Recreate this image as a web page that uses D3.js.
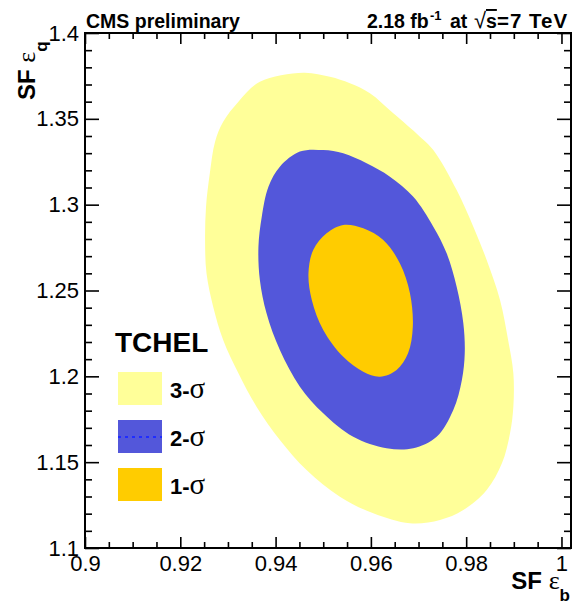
<!DOCTYPE html>
<html>
<head>
<meta charset="utf-8">
<script src="https://cdn.jsdelivr.net/npm/d3@7"></script>
<style>
  body { margin: 0; background: #fff; }
  svg { display: block; }
  text { font-family: "Liberation Sans", Arial, Helvetica, sans-serif; }
</style>
</head>
<body>
<svg id="chart" width="576" height="601"></svg>
<script>
// Axis ranges and tick labels
const xDomain = [0.9, 1.002];
const yDomain = [1.1, 1.4];
const xTickValues = [0.9, 0.92, 0.94, 0.96, 0.98, 1.0];
const xTickLabels = ["0.9", "0.92", "0.94", "0.96", "0.98", "1"];
const yTickValues = [1.1, 1.15, 1.2, 1.25, 1.3, 1.35, 1.4];
const yTickLabels = ["1.1", "1.15", "1.2", "1.25", "1.3", "1.35", "1.4"];

// 3-sigma contour (SF eps_b, SF eps_q)
const sigma3X = [0.9458, 0.9367, 0.9322, 0.9290, 0.9273, 0.9262, 0.9254, 0.9252, 0.9255, 0.9269,
                 0.9290, 0.9322, 0.9360, 0.9409, 0.9465, 0.9535, 0.9605, 0.9682, 0.9745, 0.9794,
                 0.9843, 0.9875, 0.9892, 0.9899, 0.9899, 0.9888, 0.9871, 0.9843, 0.9815, 0.9780,
                 0.9731, 0.9703, 0.9647, 0.9598, 0.9556, 0.9514];
const sigma3Y = [1.3769, 1.3716, 1.3600, 1.3483, 1.3367, 1.3183, 1.2988, 1.2794, 1.2600, 1.2406,
                 1.2212, 1.2018, 1.1823, 1.1629, 1.1454, 1.1299, 1.1202, 1.1144, 1.1163, 1.1221,
                 1.1338, 1.1493, 1.1668, 1.1823, 1.2018, 1.2212, 1.2445, 1.2678, 1.2872, 1.3085,
                 1.3318, 1.3396, 1.3532, 1.3649, 1.3707, 1.3745];

// 2-sigma contour
const sigma2X = [0.9500, 0.9451, 0.9409, 0.9385, 0.9371, 0.9364, 0.9367, 0.9381, 0.9409, 0.9451,
                 0.9500, 0.9563, 0.9633, 0.9689, 0.9738, 0.9773, 0.9791, 0.9797, 0.9794, 0.9780,
                 0.9759, 0.9731, 0.9689, 0.9640, 0.9591, 0.9542];
const sigma2Y = [1.3318, 1.3309, 1.3221, 1.3105, 1.2930, 1.2755, 1.2561, 1.2367, 1.2153, 1.1940,
                 1.1785, 1.1648, 1.1581, 1.1581, 1.1648, 1.1804, 1.1979, 1.2134, 1.2309, 1.2522,
                 1.2717, 1.2872, 1.3046, 1.3163, 1.3241, 1.3299];

// 1-sigma contour
const sigma1X = [0.9542, 0.9507, 0.9479, 0.9469, 0.9476, 0.9500, 0.9542, 0.9584, 0.9619, 0.9654,
                 0.9678, 0.9688, 0.9682, 0.9661, 0.9626, 0.9584];
const sigma1Y = [1.2882, 1.2833, 1.2736, 1.2600, 1.2445, 1.2270, 1.2114, 1.2027, 1.1998, 1.2037,
                 1.2134, 1.2289, 1.2484, 1.2658, 1.2794, 1.2862];

const legendTitle = "TCHEL";
const legendNumbers = ["3", "2", "1"];

// Plot frame
const frame = { left: 85, right: 571, top: 33, bottom: 548 };
const colors = { s3: "#ffff99", s2: "#5357da", s1: "#ffcc00" };

const svg = d3.select("#chart");
const x = d3.scaleLinear().domain(xDomain).range([frame.left, frame.right]);
const y = d3.scaleLinear().domain(yDomain).range([frame.bottom, frame.top]);

const pts = (xs, ys) => xs.map((v, i) => [x(v), y(ys[i])]);
const area = d3.line().curve(d3.curveCatmullRomClosed.alpha(0.5));

// Filled contours, widest first
[[sigma3X, sigma3Y, colors.s3], [sigma2X, sigma2Y, colors.s2], [sigma1X, sigma1Y, colors.s1]]
  .forEach(([xs, ys, c]) => {
    svg.append("path").attr("d", area(pts(xs, ys))).attr("fill", c).attr("stroke", "none");
  });

// Tick positions
const xMinor = d3.range(0, 21).map(i => +(0.9 + i * 0.005).toFixed(3))
  .filter(v => !xTickValues.some(t => Math.abs(t - v) < 1e-9));
const yMinor = d3.range(0, 31).map(i => +(1.1 + i * 0.01).toFixed(3))
  .filter(v => !yTickValues.some(t => Math.abs(t - v) < 1e-9));

function drawAxis(axis, tx, ty, withLabels) {
  const g = svg.append("g").attr("transform", `translate(${tx},${ty})`).call(axis);
  g.select(".domain").remove();
  g.selectAll("line").attr("stroke", "#000").attr("stroke-width", 1.6);
  if (!withLabels) g.selectAll("text").remove();
  return g;
}

const fmtX = d => xTickLabels[xTickValues.findIndex(t => Math.abs(t - d) < 1e-9)];
const fmtY = d => yTickLabels[yTickValues.findIndex(t => Math.abs(t - d) < 1e-9)];

// Bottom
const gb = drawAxis(d3.axisBottom(x).tickValues(xTickValues).tickSize(-11).tickPadding(7).tickFormat(fmtX), 0, frame.bottom, true);
gb.selectAll("text").attr("font-size", 22).attr("fill", "#000")
  .attr("font-family", "'Liberation Sans', Arial, sans-serif");
drawAxis(d3.axisBottom(x).tickValues(xMinor).tickSize(-6).tickFormat(""), 0, frame.bottom, false);
// Top
drawAxis(d3.axisTop(x).tickValues(xTickValues).tickSize(-11).tickFormat(""), 0, frame.top, false);
drawAxis(d3.axisTop(x).tickValues(xMinor).tickSize(-6).tickFormat(""), 0, frame.top, false);
// Left
const gl = drawAxis(d3.axisLeft(y).tickValues(yTickValues).tickSize(-14).tickPadding(6).tickFormat(fmtY), frame.left, 0, true);
gl.selectAll("text").attr("font-size", 22).attr("fill", "#000")
  .attr("font-family", "'Liberation Sans', Arial, sans-serif");
drawAxis(d3.axisLeft(y).tickValues(yMinor).tickSize(-7).tickFormat(""), frame.left, 0, false);
// Right
drawAxis(d3.axisRight(y).tickValues(yTickValues).tickSize(-14).tickFormat(""), frame.right, 0, false);
drawAxis(d3.axisRight(y).tickValues(yMinor).tickSize(-7).tickFormat(""), frame.right, 0, false);

// Frame
svg.append("rect")
  .attr("x", frame.left).attr("y", frame.top)
  .attr("width", frame.right - frame.left).attr("height", frame.bottom - frame.top)
  .attr("fill", "none").attr("stroke", "#000").attr("stroke-width", 2);

// Header texts
svg.append("text").attr("x", 86).attr("y", 28)
  .attr("font-size", 19.5).attr("font-weight", "bold").text("CMS preliminary");

const lumi = svg.append("text").attr("y", 28)
  .attr("font-size", 19.5).attr("font-weight", "bold");
lumi.append("tspan").attr("x", 367).text("2.18 fb");
lumi.append("tspan").attr("x", 430).attr("font-size", 13).attr("dy", -8).text("-1");
lumi.append("tspan").attr("x", 450).attr("dy", 8).text("at");
lumi.append("tspan").attr("x", 474).attr("font-weight", "normal").attr("font-size", 22).text("√");
lumi.append("tspan").attr("x", 486).attr("text-decoration", "overline").text("s");
lumi.append("tspan").attr("x", 497).attr("font-size", 20.5).attr("letter-spacing", 1).text("=7 TeV");

// Axis titles
const xt = svg.append("text").attr("x", 570).attr("y", 589).attr("text-anchor", "end")
  .attr("font-size", 24).attr("font-weight", "bold");
xt.append("tspan").text("SF ");
xt.append("tspan").attr("font-family", "'Liberation Serif', serif").attr("font-weight", "normal").attr("font-size", 26).text("ε");
xt.append("tspan").attr("font-size", 17).attr("dy", 12).text("b");

const yt = svg.append("text").attr("transform", "translate(35,100) rotate(-90)")
  .attr("font-size", 24).attr("font-weight", "bold");
yt.append("tspan").text("SF ");
yt.append("tspan").attr("font-family", "'Liberation Serif', serif").attr("font-weight", "normal").attr("font-size", 26).text("ε");
yt.append("tspan").attr("font-size", 17).attr("dy", 12).text("q");

// Legend
svg.append("text").attr("x", 115).attr("y", 352)
  .attr("font-size", 28).attr("font-weight", "bold").text(legendTitle);

const legendFills = [colors.s3, colors.s2, colors.s1];
const legendTops = [372, 420, 468];
legendNumbers.forEach((n, i) => {
  const top = legendTops[i];
  svg.append("rect").attr("x", 118).attr("y", top).attr("width", 44).attr("height", 33)
    .attr("fill", legendFills[i]);
  if (i === 1) {
    svg.append("line").attr("x1", 118).attr("x2", 162)
      .attr("y1", top + 17).attr("y2", top + 17)
      .attr("stroke", "#1f2cff").attr("stroke-width", 2).attr("stroke-dasharray", "3,4");
  }
  const t = svg.append("text").attr("x", 170).attr("y", top + 26)
    .attr("font-size", 22).attr("font-weight", "bold");
  t.append("tspan").text(n + "-");
  t.append("tspan").attr("font-family", "'Liberation Serif', serif").attr("font-weight", "normal")
    .attr("font-size", 29).text("σ");
});
</script>
</body>
</html>
